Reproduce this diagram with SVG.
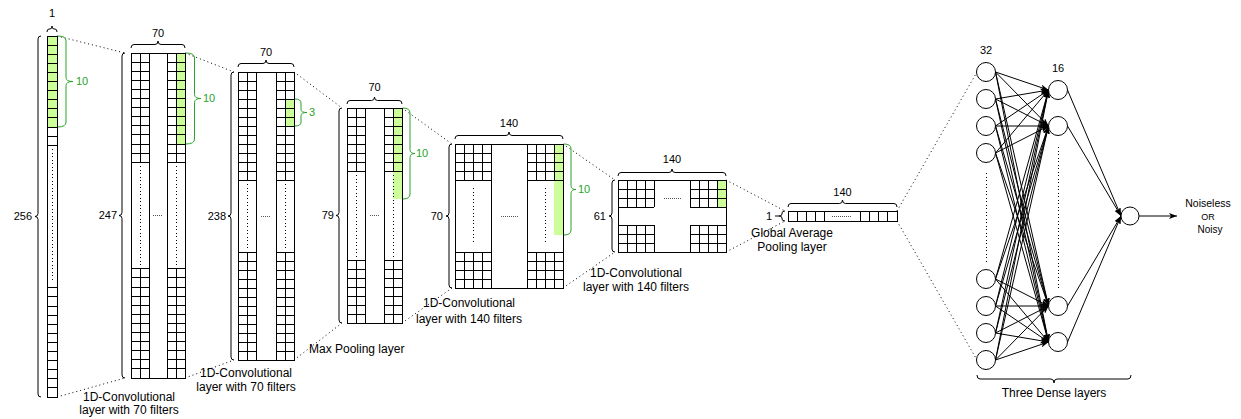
<svg xmlns="http://www.w3.org/2000/svg" width="1241" height="419" viewBox="0 0 1241 419">
<style>
.box{fill:none;stroke:#000;stroke-width:1;shape-rendering:crispEdges}
.grid{fill:none;stroke:#000;stroke-width:1;shape-rendering:crispEdges}
.green{fill:#CCFF99;stroke:none;shape-rendering:crispEdges}
.idot{stroke:#000;stroke-width:1;stroke-dasharray:1 2.5;shape-rendering:crispEdges}
.hdot{stroke:#555;stroke-width:1;stroke-dasharray:1 1;shape-rendering:crispEdges}
.conn{stroke:#000;stroke-width:1;stroke-dasharray:1 3;fill:none}
.br{fill:none;stroke:#000;stroke-width:1}
.brg{fill:none;stroke:#29A329;stroke-width:1}
.t{font-family:"Liberation Sans",Arial,Helvetica,sans-serif;font-size:11px;fill:#000}
.tl{font-size:12px}
.tg{fill:#29A329}
.e{stroke:#000;stroke-width:1;marker-end:url(#ah)}
.node{fill:#fff;stroke:#000;stroke-width:1}
</style>
<defs>
<marker id="ah" markerWidth="8" markerHeight="6" refX="8" refY="3" orient="auto" markerUnits="userSpaceOnUse"><path d="M0,0 L8,3 L0,6 L2,3 z" fill="#000"/></marker>
</defs>
<rect width="1241" height="419" fill="#fff"/>

<g id="connectors">
<line class="conn" x1="57" y1="36" x2="125" y2="53"/>
<line class="conn" x1="57" y1="397" x2="125" y2="378"/>
<line class="conn" x1="185" y1="53" x2="234" y2="72"/>
<line class="conn" x1="185" y1="378" x2="234" y2="360"/>
<line class="conn" x1="294" y1="72" x2="342" y2="108"/>
<line class="conn" x1="294" y1="360" x2="342" y2="323"/>
<line class="conn" x1="402" y1="108" x2="452" y2="144"/>
<line class="conn" x1="402" y1="323" x2="452" y2="288"/>
<line class="conn" x1="563" y1="144" x2="615" y2="180"/>
<line class="conn" x1="563" y1="288" x2="615" y2="252"/>
<line class="conn" x1="726" y1="180" x2="785" y2="211"/>
<line class="conn" x1="726" y1="252" x2="785" y2="221"/>
<line class="conn" x1="897" y1="211" x2="977" y2="72"/>
<line class="conn" x1="897" y1="221" x2="977" y2="360"/>
<line class="e" x1="995.5" y1="72" x2="1048.5" y2="90"/>
<line class="e" x1="995.5" y1="72" x2="1048.5" y2="126"/>
<line class="e" x1="995.5" y1="72" x2="1048.5" y2="306"/>
<line class="e" x1="995.5" y1="72" x2="1048.5" y2="342"/>
<line class="e" x1="995.5" y1="99" x2="1048.5" y2="90"/>
<line class="e" x1="995.5" y1="99" x2="1048.5" y2="126"/>
<line class="e" x1="995.5" y1="99" x2="1048.5" y2="306"/>
<line class="e" x1="995.5" y1="99" x2="1048.5" y2="342"/>
<line class="e" x1="995.5" y1="126" x2="1048.5" y2="90"/>
<line class="e" x1="995.5" y1="126" x2="1048.5" y2="126"/>
<line class="e" x1="995.5" y1="126" x2="1048.5" y2="306"/>
<line class="e" x1="995.5" y1="126" x2="1048.5" y2="342"/>
<line class="e" x1="995.5" y1="153" x2="1048.5" y2="90"/>
<line class="e" x1="995.5" y1="153" x2="1048.5" y2="126"/>
<line class="e" x1="995.5" y1="153" x2="1048.5" y2="306"/>
<line class="e" x1="995.5" y1="153" x2="1048.5" y2="342"/>
<line class="e" x1="995.5" y1="279" x2="1048.5" y2="90"/>
<line class="e" x1="995.5" y1="279" x2="1048.5" y2="126"/>
<line class="e" x1="995.5" y1="279" x2="1048.5" y2="306"/>
<line class="e" x1="995.5" y1="279" x2="1048.5" y2="342"/>
<line class="e" x1="995.5" y1="306" x2="1048.5" y2="90"/>
<line class="e" x1="995.5" y1="306" x2="1048.5" y2="126"/>
<line class="e" x1="995.5" y1="306" x2="1048.5" y2="306"/>
<line class="e" x1="995.5" y1="306" x2="1048.5" y2="342"/>
<line class="e" x1="995.5" y1="333" x2="1048.5" y2="90"/>
<line class="e" x1="995.5" y1="333" x2="1048.5" y2="126"/>
<line class="e" x1="995.5" y1="333" x2="1048.5" y2="306"/>
<line class="e" x1="995.5" y1="333" x2="1048.5" y2="342"/>
<line class="e" x1="995.5" y1="360" x2="1048.5" y2="90"/>
<line class="e" x1="995.5" y1="360" x2="1048.5" y2="126"/>
<line class="e" x1="995.5" y1="360" x2="1048.5" y2="306"/>
<line class="e" x1="995.5" y1="360" x2="1048.5" y2="342"/>
<line class="e" x1="1067.5" y1="90" x2="1121" y2="216"/>
<line class="e" x1="1067.5" y1="126" x2="1121" y2="216"/>
<line class="e" x1="1067.5" y1="306" x2="1121" y2="216"/>
<line class="e" x1="1067.5" y1="342" x2="1121" y2="216"/>
<line class="e" x1="1139" y1="216" x2="1177" y2="216"/>
</g>

<g id="input-layer">
<rect class="green" x="47" y="36" width="10" height="91"/>
<rect class="box" x="47" y="36" width="10" height="361"/>
<path class="grid" d="M47 45.1h10M47 54.2h10M47 63.3h10M47 72.4h10M47 81.5h10M47 90.6h10M47 99.7h10M47 108.8h10M47 117.9h10M47 127h10M47 136.1h10M47 145.2h10M47 287.8h10M47 296.9h10M47 306h10M47 315.1h10M47 324.2h10M47 333.3h10M47 342.4h10M47 351.5h10M47 360.6h10M47 369.7h10M47 378.8h10M47 387.9h10"/>
<line class="idot" x1="52.5" y1="149" x2="52.5" y2="282"/>
<path class="br" d="M47 32Q47 29 49 29H50Q52 29 52 26Q52 29 54 29H55Q57 29 57 32"/>
<text class="t" x="52" y="17" text-anchor="middle">1</text>
<path class="br" d="M41 36Q38 36 38 39V213.5Q38 216.5 35 216.5Q38 216.5 38 219.5V394Q38 397 41 397"/>
<text class="t" x="32" y="220" text-anchor="end">256</text>
<path class="brg" d="M58 36Q66 36 66 41V77.5Q66 81.5 73 81.5Q66 81.5 66 85.5V122Q66 127 58 127"/>
<text class="t tg" x="76" y="85">10</text>
</g>

<g id="conv1">
<rect class="green" x="176" y="53" width="9" height="91"/>
<rect class="box" x="131" y="53" width="54" height="325"/>
<path class="grid" d="M149 53V378M167 53V378M140 53V162.2M176 53V162.2M140 268.8V378M176 268.8V378M131 62.1h18m18 0h18M131 71.2h18m18 0h18M131 80.3h18m18 0h18M131 89.4h18m18 0h18M131 98.5h18m18 0h18M131 107.6h18m18 0h18M131 116.7h18m18 0h18M131 125.8h18m18 0h18M131 134.9h18m18 0h18M131 144h18m18 0h18M131 153.1h18m18 0h18M131 162.2h18m18 0h18M131 268.8h18m18 0h18M131 277.9h18m18 0h18M131 287h18m18 0h18M131 296.1h18m18 0h18M131 305.2h18m18 0h18M131 314.3h18m18 0h18M131 323.4h18m18 0h18M131 332.5h18m18 0h18M131 341.6h18m18 0h18M131 350.7h18m18 0h18M131 359.8h18m18 0h18M131 368.9h18m18 0h18"/>
<line class="idot" x1="140" y1="166" x2="140" y2="265"/>
<line class="idot" x1="176" y1="166" x2="176" y2="265"/>
<line class="hdot" x1="153" y1="215.5" x2="163" y2="215.5"/>
<path class="br" d="M131 48Q131 44.5 134 44.5H155Q158 44.5 158 41Q158 44.5 161 44.5H182Q185 44.5 185 48"/>
<text class="t" x="158" y="37" text-anchor="middle">70</text>
<path class="br" d="M125 53Q122 53 122 56V212.5Q122 215.5 119 215.5Q122 215.5 122 218.5V375Q122 378 125 378"/>
<text class="t" x="117" y="219" text-anchor="end">247</text>
<path class="brg" d="M186 53Q194.5 53 194.5 58V94.5Q194.5 98.5 201 98.5Q194.5 98.5 194.5 102.5V139Q194.5 144 186 144"/>
<text class="t tg" x="203" y="102">10</text>
<text class="t tl" x="246" y="377" text-anchor="middle">1D-Convolutional</text>
<text class="t tl" x="246" y="391" text-anchor="middle">layer with 70 filters</text>
</g>

<g id="conv1-label">
<text class="t tl" x="129" y="401" text-anchor="middle">1D-Convolutional</text>
<text class="t tl" x="129" y="414" text-anchor="middle">layer with 70 filters</text>
</g>

<g id="conv2">
<rect class="green" x="285" y="99" width="9" height="27"/>
<rect class="box" x="238" y="72" width="56" height="288"/>
<path class="grid" d="M256 72V360M276 72V360M247 72V180M285 72V180M247 252V360M285 252V360M238 81h18m20 0h18M238 90h18m20 0h18M238 99h18m20 0h18M238 108h18m20 0h18M238 117h18m20 0h18M238 126h18m20 0h18M238 135h18m20 0h18M238 144h18m20 0h18M238 153h18m20 0h18M238 162h18m20 0h18M238 171h18m20 0h18M238 180h18m20 0h18M238 252h18m20 0h18M238 261h18m20 0h18M238 270h18m20 0h18M238 279h18m20 0h18M238 288h18m20 0h18M238 297h18m20 0h18M238 306h18m20 0h18M238 315h18m20 0h18M238 324h18m20 0h18M238 333h18m20 0h18M238 342h18m20 0h18M238 351h18m20 0h18"/>
<line class="idot" x1="247" y1="184" x2="247" y2="249"/>
<line class="idot" x1="285" y1="184" x2="285" y2="249"/>
<line class="hdot" x1="261" y1="216" x2="271" y2="216"/>
<path class="br" d="M238 67Q238 63.5 241 63.5H263Q266 63.5 266 60Q266 63.5 269 63.5H291Q294 63.5 294 67"/>
<text class="t" x="266" y="56" text-anchor="middle">70</text>
<path class="br" d="M234 72Q231 72 231 75V213Q231 216 228 216Q231 216 231 219V357Q231 360 234 360"/>
<text class="t" x="226" y="220" text-anchor="end">238</text>
<path class="brg" d="M295 99Q301 99 301 103V109.5Q301 112.5 307 112.5Q301 112.5 301 115.5V122Q301 126 295 126"/>
<text class="t tg" x="309" y="116">3</text>
</g>

<g id="maxpool">
<rect class="green" x="393" y="108" width="9" height="91"/>
<rect class="box" x="347" y="108" width="55" height="215"/>
<path class="grid" d="M365 108V323M384 108V323M356 108V171M393 108V171M356 260V323M393 260V323M347 117h18m19 0h18M347 126h18m19 0h18M347 135h18m19 0h18M347 144h18m19 0h18M347 153h18m19 0h18M347 162h18m19 0h18M347 171h18m19 0h18M347 260h18m19 0h18M347 269h18m19 0h18M347 278h18m19 0h18M347 287h18m19 0h18M347 296h18m19 0h18M347 305h18m19 0h18M347 314h18m19 0h18"/>
<line class="idot" x1="356" y1="175" x2="356" y2="257"/>
<line class="idot" x1="393" y1="175" x2="393" y2="257"/>
<line class="hdot" x1="370" y1="215.5" x2="379" y2="215.5"/>
<path class="br" d="M347 104Q347 100.5 350 100.5H371.5Q374.5 100.5 374.5 97Q374.5 100.5 377.5 100.5H399Q402 100.5 402 104"/>
<text class="t" x="374.5" y="91" text-anchor="middle">70</text>
<path class="br" d="M342 108Q339 108 339 111V212.5Q339 215.5 336 215.5Q339 215.5 339 218.5V320Q339 323 342 323"/>
<text class="t" x="334" y="219" text-anchor="end">79</text>
<path class="brg" d="M403 108Q410 108 410 113V149.5Q410 153.5 415 153.5Q410 153.5 410 157.5V194Q410 199 403 199"/>
<text class="t tg" x="416" y="157">10</text>
<text class="t tl" x="309" y="353">Max Pooling layer</text>
</g>

<g id="conv3">
<rect class="green" x="554" y="144" width="9" height="91"/>
<rect class="box" x="455" y="144" width="108" height="144"/>
<path class="grid" d="M491 144V288M527 144V288M464 144V180M473 144V180M482 144V180M536 144V180M545 144V180M554 144V180M464 252V288M473 252V288M482 252V288M536 252V288M545 252V288M554 252V288M455 153h36m36 0h36M455 162h36m36 0h36M455 171h36m36 0h36M455 180h36m36 0h36M455 252h36m36 0h36M455 261h36m36 0h36M455 270h36m36 0h36M455 279h36m36 0h36"/>
<line class="idot" x1="473" y1="188" x2="473" y2="244"/>
<line class="idot" x1="545" y1="188" x2="545" y2="244"/>
<line class="hdot" x1="501" y1="216" x2="518" y2="216"/>
<path class="br" d="M455 139Q455 135.5 458 135.5H506Q509 135.5 509 132Q509 135.5 512 135.5H560Q563 135.5 563 139"/>
<text class="t" x="509" y="127" text-anchor="middle">140</text>
<path class="br" d="M452 144Q449 144 449 147V213Q449 216 446 216Q449 216 449 219V285Q449 288 452 288"/>
<text class="t" x="443" y="220" text-anchor="end">70</text>
<path class="brg" d="M564 144Q571 144 571 149V185.5Q571 189.5 576 189.5Q571 189.5 571 193.5V230Q571 235 564 235"/>
<text class="t tg" x="578" y="193">10</text>
<text class="t tl" x="469" y="307" text-anchor="middle">1D-Convolutional</text>
<text class="t tl" x="469" y="323" text-anchor="middle">layer with 140 filters</text>
</g>

<g id="conv4">
<rect class="green" x="717" y="180" width="9" height="27"/>
<rect class="box" x="618" y="180" width="108" height="72"/>
<path class="grid" d="M627 180V207M636 180V207M645 180V207M654 180V207M690 180V207M699 180V207M708 180V207M717 180V207M627 225V252M636 225V252M645 225V252M654 225V252M690 225V252M699 225V252M708 225V252M717 225V252M618 189h36m36 0h36M618 198h36m36 0h36M618 207h36m36 0h36M618 225h36m36 0h36M618 234h36m36 0h36M618 243h36m36 0h36"/>
<line class="hdot" x1="664" y1="198" x2="681" y2="198"/>
<path class="br" d="M618 176Q618 172.5 621 172.5H669Q672 172.5 672 169Q672 172.5 675 172.5H723Q726 172.5 726 176"/>
<text class="t" x="672" y="163" text-anchor="middle">140</text>
<path class="br" d="M615 180Q612 180 612 183V213Q612 216 609 216Q612 216 612 219V249Q612 252 615 252"/>
<text class="t" x="606" y="220" text-anchor="end">61</text>
<text class="t tl" x="636" y="277" text-anchor="middle">1D-Convolutional</text>
<text class="t tl" x="636" y="291" text-anchor="middle">layer with 140 filters</text>
</g>

<g id="gap">
<rect class="box" x="788" y="211" width="109" height="10"/>
<path class="grid" d="M797.1 211V221M806.2 211V221M815.3 211V221M824.4 211V221M860.6 211V221M869.7 211V221M878.8 211V221M887.9 211V221"/>
<line class="hdot" x1="832" y1="216" x2="852" y2="216"/>
<path class="br" d="M788 207Q788 203.5 791 203.5H839.5Q842.5 203.5 842.5 200Q842.5 203.5 845.5 203.5H894Q897 203.5 897 207"/>
<text class="t" x="842.5" y="196" text-anchor="middle">140</text>
<path class="br" d="M785 211Q782 211 782 213V214Q782 216 779 216H775M779 216Q782 216 782 218V219Q782 221 785 221"/>
<text class="t" x="772" y="220" text-anchor="end">1</text>
<text class="t tl" x="792" y="237" text-anchor="middle">Global Average</text>
<text class="t tl" x="792" y="251" text-anchor="middle">Pooling layer</text>
</g>

<g id="dense">
<line class="idot" x1="986" y1="173" x2="986" y2="262"/>
<line class="idot" x1="1058" y1="147" x2="1058" y2="288"/>
<circle class="node" cx="986" cy="72" r="9.5"/>
<circle class="node" cx="986" cy="99" r="9.5"/>
<circle class="node" cx="986" cy="126" r="9.5"/>
<circle class="node" cx="986" cy="153" r="9.5"/>
<circle class="node" cx="986" cy="279" r="9.5"/>
<circle class="node" cx="986" cy="306" r="9.5"/>
<circle class="node" cx="986" cy="333" r="9.5"/>
<circle class="node" cx="986" cy="360" r="9.5"/>
<circle class="node" cx="1058" cy="90" r="9.5"/>
<circle class="node" cx="1058" cy="126" r="9.5"/>
<circle class="node" cx="1058" cy="306" r="9.5"/>
<circle class="node" cx="1058" cy="342" r="9.5"/>
<circle class="node" cx="1130" cy="216" r="9"/>
<text class="t" x="986" y="54" text-anchor="middle">32</text>
<text class="t" x="1058" y="72" text-anchor="middle">16</text>
<path class="br" d="M977 375Q977 379 980 379H1051Q1054 379 1054 383Q1054 379 1057 379H1128Q1131 379 1131 375"/>
<text class="t tl" x="1054" y="397" text-anchor="middle">Three Dense layers</text>
</g>

<g id="output">
<text class="t" x="1208" y="207" text-anchor="middle" style="font-size:10.5px">Noiseless</text>
<text class="t" x="1208" y="220" text-anchor="middle" style="font-size:9px">OR</text>
<text class="t" x="1210" y="233" text-anchor="middle" style="font-size:10px">Noisy</text>
</g>
</svg>
